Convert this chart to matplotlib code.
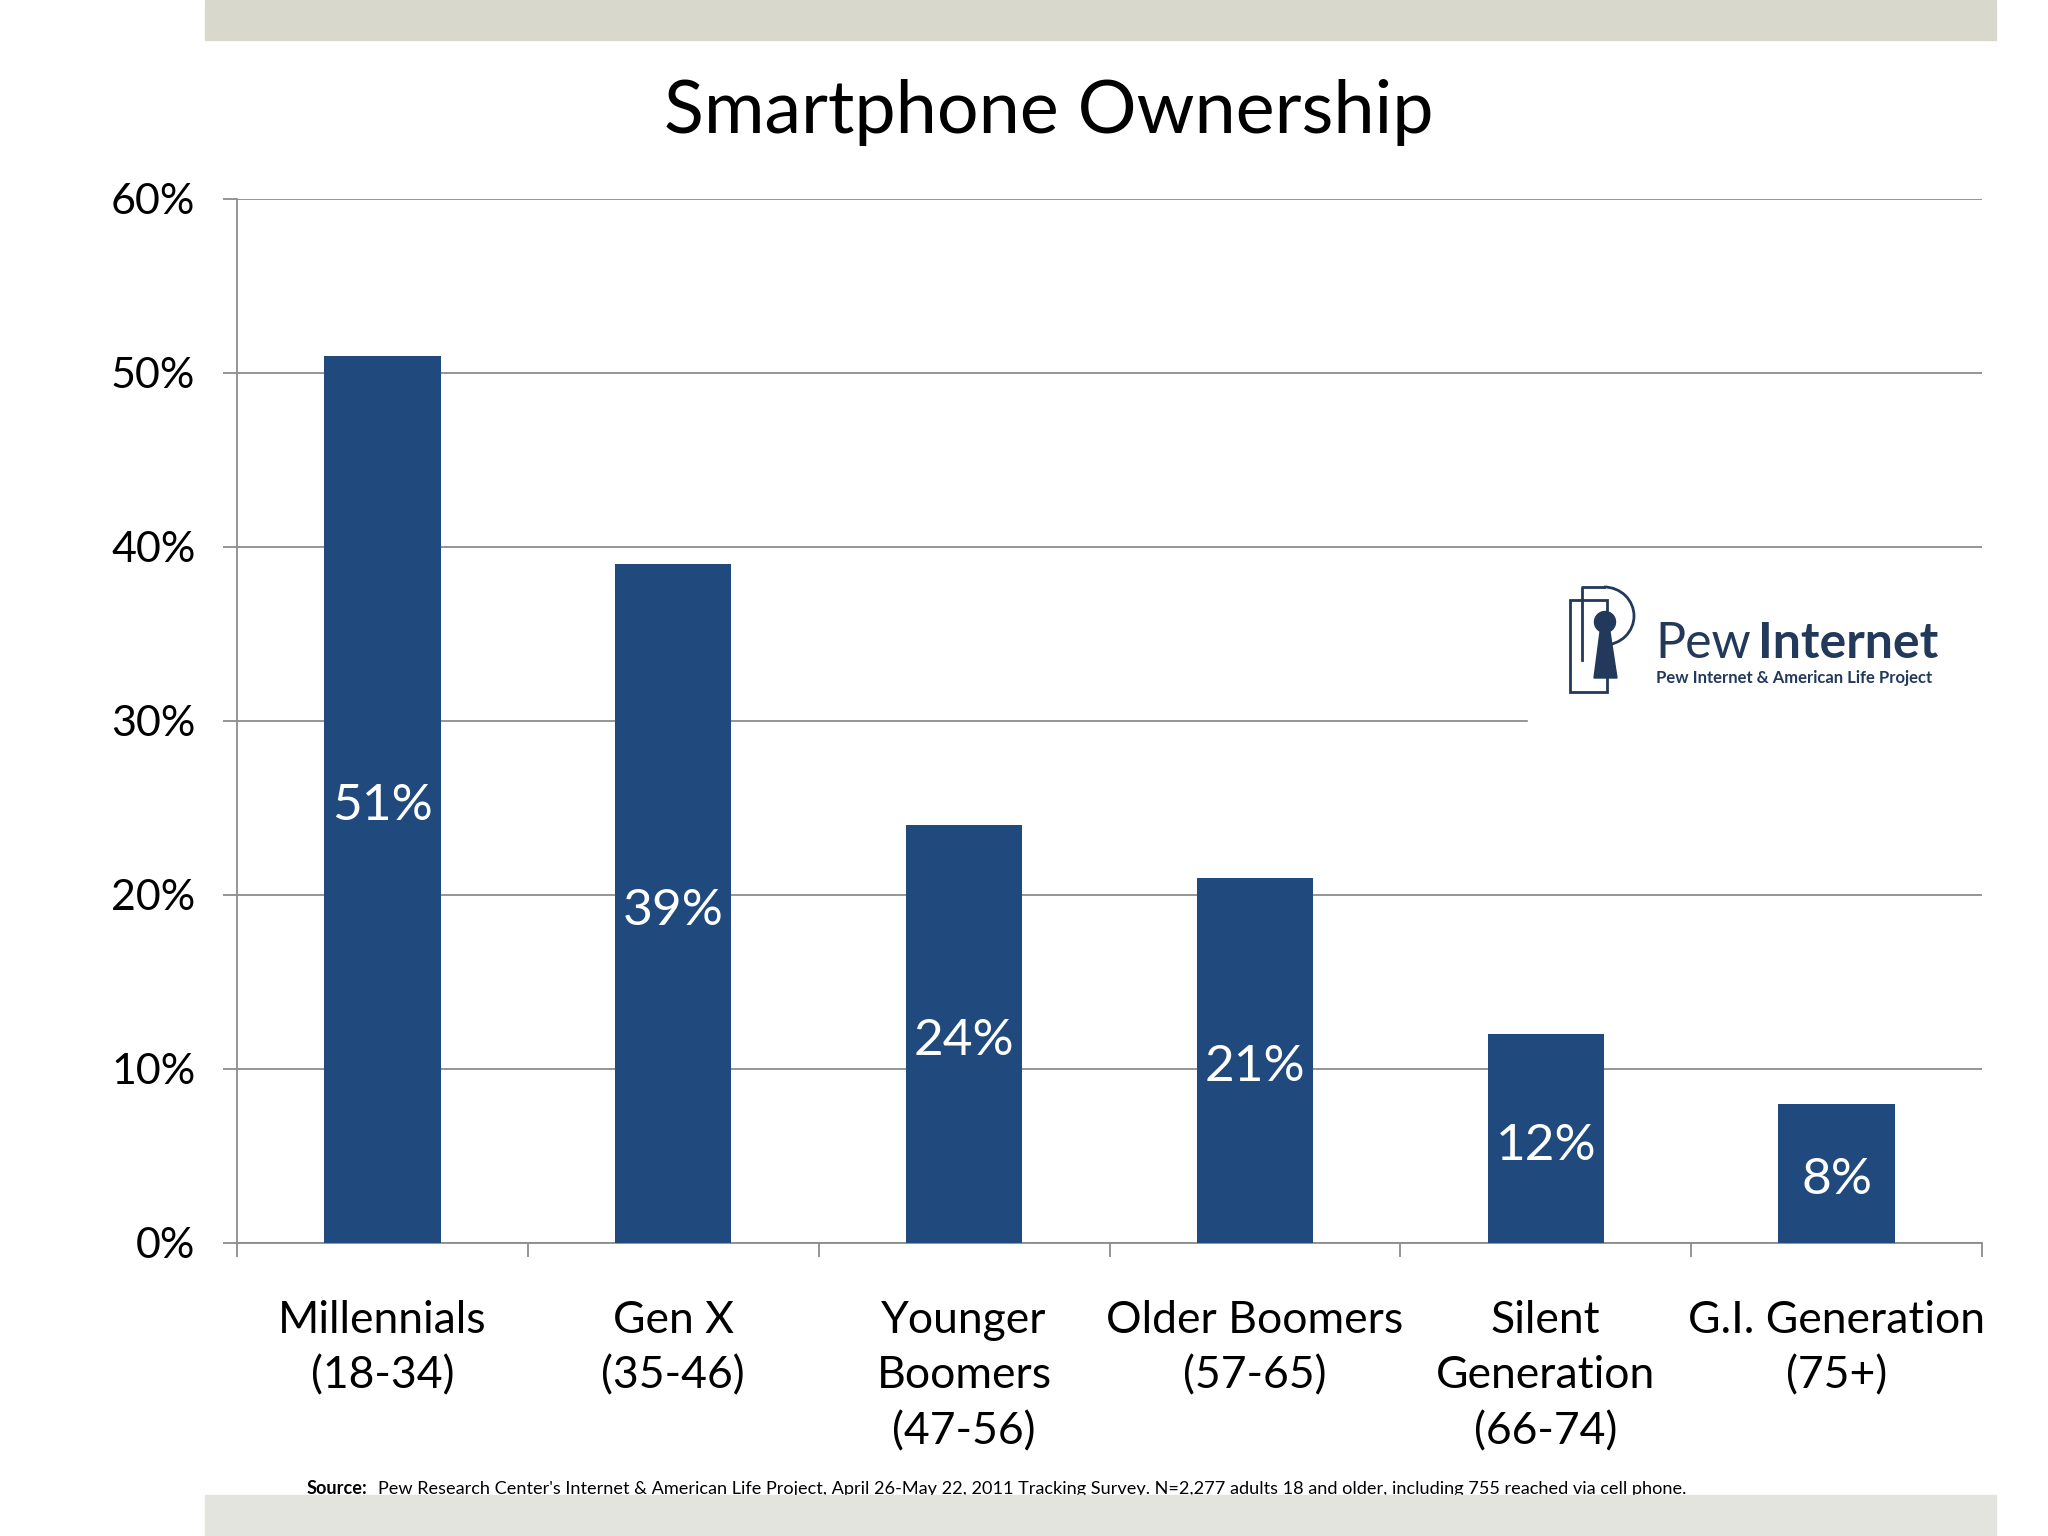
import matplotlib
matplotlib.use("Agg")
import matplotlib.pyplot as plt
from matplotlib.patches import Rectangle, Circle, Arc, Polygon
import numpy as np

plt.rcParams['font.family'] = ['Lato', 'DejaVu Sans']

# data
groups = ["Millennials\n(18-34)", "Gen X\n(35-46)", "Younger\nBoomers\n(47-56)",
          "Older Boomers\n(57-65)", "Silent\nGeneration\n(66-74)", "G.I. Generation\n(75+)"]
ownership = [51, 39, 24, 21, 12, 8]
yticks = [0, 10, 20, 30, 40, 50, 60]

title = "Smartphone Ownership"
source = ("Pew Research Center's Internet & American Life Project, April 26-May 22, 2011 "
          "Tracking Survey. N=2,277 adults 18 and older, including 755 reached via cell phone.")

bar_color = "#204a7e"
grid_color = "#8c8c8c"
logo_color = "#23395b"

W, H = 2048, 1536
fig = plt.figure(figsize=(W / 100, H / 100), dpi=100)
fig.patch.set_facecolor("white")

ax = fig.add_axes([237 / W, 1 - 1243 / H, (1982 - 237) / W, (1243 - 199) / H])
x = np.arange(len(groups))
ax.bar(x, ownership, width=0.4, color=bar_color, zorder=3)
ax.set_xlim(-0.5, len(groups) - 0.5)
ax.set_ylim(0, 60)

for xi, v in zip(x, ownership):
    ax.annotate(f"{v}%", (xi, v / 2), xytext=(0, -5), textcoords="offset points",
                ha="center", va="center", color="white", fontsize=37, zorder=4)

ax.set_yticks(yticks)
ax.set_yticklabels([f"{t}%" for t in yticks], fontsize=31)
ax.yaxis.grid(True, color=grid_color, linewidth=1.3, zorder=0)
ax.tick_params(axis="y", length=10, width=1.3, color=grid_color, pad=20)

ax.set_xticks(x)
ax.set_xticklabels(groups, fontsize=32, linespacing=1.44)
ax.set_xticks(np.arange(len(groups) + 1) - 0.5, minor=True)
ax.tick_params(axis="x", which="major", length=0, pad=41)
ax.tick_params(axis="x", which="minor", length=10, width=1.3, color=grid_color)

for s in ["top", "right"]:
    ax.spines[s].set_visible(False)
for s in ["left", "bottom"]:
    ax.spines[s].set_color(grid_color)
    ax.spines[s].set_linewidth(1.3)

# overlay in pixel coordinates for decoration
ov = fig.add_axes([0, 0, 1, 1], zorder=5)
ov.set_xlim(0, W)
ov.set_ylim(H, 0)
ov.axis("off")
ov.patch.set_alpha(0)

ov.add_patch(Rectangle((205, 0), 1996 - 205, 40, color="#d8d9cc"))
ov.add_patch(Rectangle((205, 1495), 1996 - 205, H - 1495, color="#e4e4df"))

# logo
ov.add_patch(Rectangle((1528, 570), 1984 - 1528, 165, color="white"))
ov.add_patch(Rectangle((1570, 600), 37, 92, fill=False, edgecolor=logo_color, lw=2))
ov.plot([1582, 1582, 1604], [660, 587, 587], color=logo_color, lw=2)
ov.add_patch(Arc((1604, 616), 60, 58, theta1=-90, theta2=90, edgecolor=logo_color, lw=2))
ov.add_patch(Circle((1605, 622), 10.5, color=logo_color))
ov.add_patch(Polygon([(1600, 632), (1610, 632), (1617, 678), (1594, 678)], closed=True, color=logo_color))
t1 = ov.text(1655, 658, "Pew", fontsize=36, color=logo_color, va="baseline")
fig.canvas.draw()
r = fig.canvas.get_renderer()
bb = t1.get_window_extent(r)
ov.text(bb.x1 + 7, 658, "Internet", fontsize=36, color=logo_color, va="baseline", fontweight="bold")
ov.text(1656, 683, "Pew Internet & American Life Project", fontsize=12, color=logo_color,
        va="baseline", fontweight="bold")

fig.text(1049 / W, 1 - 112 / H, title, ha="center", va="center", fontsize=53)

s1 = fig.text(307 / W, 1 - 1489 / H, "Source:", fontsize=13.1, fontweight="bold", va="center")
fig.canvas.draw()
bb = s1.get_window_extent(fig.canvas.get_renderer())
fig.text((bb.x1 + 10) / W, 1 - 1489 / H, source, fontsize=13.1, va="center")

fig.savefig("out.png", dpi=100)
